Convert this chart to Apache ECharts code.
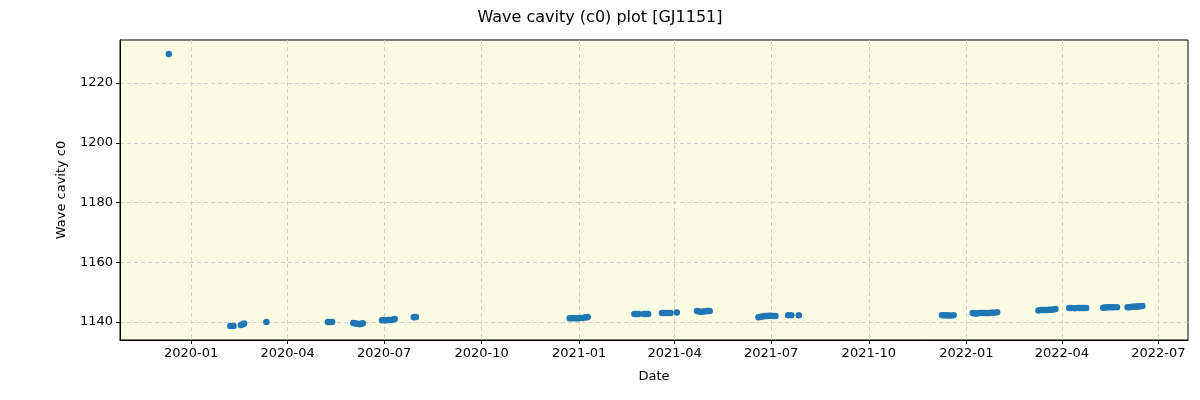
<!DOCTYPE html>
<html>
<head>
<meta charset="utf-8">
<script src="https://cdn.jsdelivr.net/npm/echarts@6/dist/echarts.min.js"></script>
<style>
html,body{margin:0;padding:0;background:#fff;}
#chart{width:1200px;height:400px;}
</style>
</head>
<body>
<div id="chart"></div>
<script>
const titleText = 'Wave cavity (c0) plot [GJ1151]';
const xAxisName = 'Date';
const yAxisName = 'Wave cavity c0';

const dates = [
 '2019-12-11',
 '2020-02-07','2020-02-10','2020-02-17','2020-02-19','2020-02-20','2020-03-12',
 '2020-05-09','2020-05-11','2020-05-13',
 '2020-06-02','2020-06-04','2020-06-06','2020-06-08','2020-06-10','2020-06-11',
 '2020-06-29','2020-07-01','2020-07-03','2020-07-05','2020-07-07','2020-07-09','2020-07-11',
 '2020-07-29','2020-07-30','2020-07-31',
 '2020-12-23','2020-12-25','2020-12-27','2020-12-29','2020-12-31','2021-01-02','2021-01-04','2021-01-06','2021-01-08','2021-01-09',
 '2021-02-22','2021-02-24','2021-02-26','2021-03-03','2021-03-05','2021-03-07',
 '2021-03-20','2021-03-22','2021-03-24','2021-03-26','2021-03-28','2021-04-03',
 '2021-04-22','2021-04-24','2021-04-26','2021-04-28','2021-04-30','2021-05-02','2021-05-04',
 '2021-06-19','2021-06-21','2021-06-23','2021-06-25','2021-06-27','2021-06-29','2021-07-01','2021-07-03','2021-07-05',
 '2021-07-17','2021-07-20','2021-07-27',
 '2021-12-09','2021-12-11','2021-12-13','2021-12-15','2021-12-17','2021-12-20',
 '2022-01-07','2022-01-09','2022-01-11','2022-01-13','2022-01-15','2022-01-17','2022-01-19','2022-01-21','2022-01-23','2022-01-25','2022-01-27','2022-01-30',
 '2022-03-10','2022-03-12','2022-03-14','2022-03-16','2022-03-18','2022-03-20','2022-03-22','2022-03-24','2022-03-26',
 '2022-04-08','2022-04-10','2022-04-13','2022-04-16','2022-04-18','2022-04-20','2022-04-22','2022-04-24',
 '2022-05-10','2022-05-12','2022-05-14','2022-05-16','2022-05-18','2022-05-20','2022-05-23',
 '2022-06-02','2022-06-04','2022-06-06','2022-06-08','2022-06-10','2022-06-12','2022-06-14','2022-06-16'
];
const values = [
 1229.7,
 1138.7,1138.7,1139.0,1139.3,1139.5,1140.0,
 1140.0,1140.0,1140.0,
 1139.7,1139.5,1139.4,1139.3,1139.5,1139.6,
 1140.6,1140.6,1140.6,1140.7,1140.7,1140.8,1141.0,
 1141.6,1141.7,1141.7,
 1141.3,1141.3,1141.3,1141.3,1141.3,1141.4,1141.4,1141.5,1141.6,1141.7,
 1142.7,1142.7,1142.7,1142.7,1142.7,1142.7,
 1143.0,1143.0,1143.0,1143.0,1143.0,1143.2,
 1143.7,1143.5,1143.4,1143.5,1143.6,1143.7,1143.7,
 1141.6,1141.8,1141.9,1142.0,1142.0,1142.1,1142.1,1142.0,1142.0,
 1142.3,1142.3,1142.3,
 1142.3,1142.3,1142.3,1142.2,1142.2,1142.3,
 1143.0,1142.9,1142.9,1143.0,1143.0,1143.0,1143.0,1143.0,1143.0,1143.1,1143.1,1143.3,
 1143.9,1144.0,1144.0,1144.0,1144.0,1144.1,1144.1,1144.2,1144.4,
 1144.7,1144.7,1144.6,1144.7,1144.7,1144.7,1144.7,1144.7,
 1144.8,1144.9,1145.0,1145.0,1145.0,1145.0,1145.0,
 1145.0,1145.0,1145.1,1145.1,1145.2,1145.2,1145.3,1145.4
];
const xTickLabels = ['2020-01','2020-04','2020-07','2020-10','2021-01','2021-04','2021-07','2021-10','2022-01','2022-04','2022-07'];
const yTicks = [1140,1160,1180,1200,1220];
const xRange = ['2019-10-26','2022-07-29'];
const yRange = [1134.0,1234.4];

function ts(s){ const p = s.split('-').map(Number); return Date.UTC(p[0], p[1]-1, p[2] || 1); }
function fmt(v){ const d = new Date(v); const m = d.getUTCMonth()+1; return d.getUTCFullYear() + '-' + (m<10?'0'+m:m); }

const xTicks = xTickLabels.map(ts);
const points = dates.map((d,i)=>[ts(d), values[i]]);

const font = 'DejaVu Sans';
const chart = echarts.init(document.getElementById('chart'), null, {renderer:'canvas'});
chart.setOption({
  animation:false,
  backgroundColor:'#ffffff',
  title:{text:titleText,left:'center',top:5,textStyle:{fontFamily:font,fontSize:16,fontWeight:'normal',color:'#000'}},
  grid:{left:120,right:12,top:40,bottom:60,show:true,backgroundColor:'#fdfde3',borderColor:'#000',borderWidth:1},
  xAxis:{
    type:'value',min:ts(xRange[0]),max:ts(xRange[1]),
    name:xAxisName,nameLocation:'middle',nameGap:30,
    nameTextStyle:{fontFamily:font,fontSize:13,color:'#000'},
    axisLine:{show:true,lineStyle:{color:'#000',width:1}},
    axisTick:{show:true,length:4,customValues:xTicks,lineStyle:{color:'#000'}},
    axisLabel:{customValues:xTicks,formatter:fmt,fontFamily:font,fontSize:13,color:'#000',margin:7},
    splitLine:{show:true,customValues:xTicks,lineStyle:{color:'#d0d0d0',type:[4,3],width:1}}
  },
  yAxis:{
    type:'value',min:yRange[0],max:yRange[1],
    name:yAxisName,nameLocation:'middle',nameGap:52,nameRotate:90,
    nameTextStyle:{fontFamily:font,fontSize:13,color:'#000'},
    axisLine:{show:true,lineStyle:{color:'#000',width:1}},
    axisTick:{show:true,length:4,customValues:yTicks,lineStyle:{color:'#000'}},
    axisLabel:{customValues:yTicks,formatter:function(v){return String(v);},fontFamily:font,fontSize:13,color:'#000',margin:7},
    splitLine:{show:true,customValues:yTicks,lineStyle:{color:'#d0d0d0',type:[4,3],width:1}}
  },
  series:[{
    type:'scatter',data:points,symbolSize:6.5,
    itemStyle:{color:'#1f77b4',opacity:1}
  }]
});
</script>
</body>
</html>
